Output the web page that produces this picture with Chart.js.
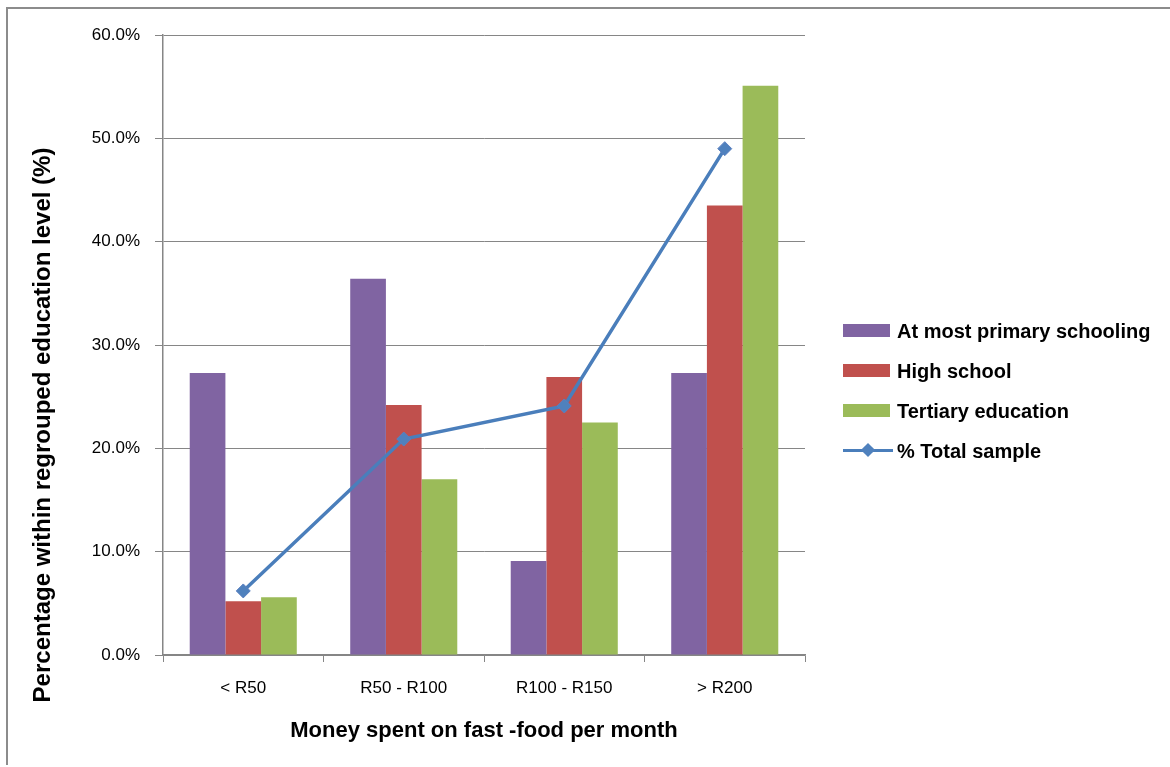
<!DOCTYPE html>
<html>
<head>
<meta charset="utf-8">
<script src="https://cdn.jsdelivr.net/npm/chart.js@4"></script>
<style>
  html, body { margin: 0; padding: 0; background: #fff; }
  #wrap { position: relative; width: 1170px; height: 767px; overflow: hidden; }
  #frame { position: absolute; left: 6px; top: 7px; width: 1170px; height: 758px;
           border-left: 2px solid #8c8c8c; border-top: 2px solid #8c8c8c; box-sizing: border-box; }
  canvas { position: absolute; left: 0; top: 0; }
  #legend { position: absolute; left: 843px; top: 0; font-family: "Liberation Sans", Arial, sans-serif;
            font-weight: bold; font-size: 20px; color: #000; }
  .item { position: absolute; left: 0; height: 24px; white-space: nowrap; }
  .sw { position: absolute; left: 0; }
  .lbl { position: absolute; left: 54px; top: 0; line-height: 24px; }
</style>
</head>
<body>
<div id="wrap">
  <div id="frame"></div>
  <canvas id="c" width="1170" height="767"></canvas>
  <div id="legend"></div>
</div>
<script>
const categories = ['< R50', 'R50 - R100', 'R100 - R150', '> R200'];
const primarySchooling = [27.3, 36.4, 9.1, 27.3];
const highSchool = [5.2, 24.2, 26.9, 43.5];
const tertiaryEducation = [5.6, 17.0, 22.5, 55.1];
const totalSample = [6.2, 20.9, 24.1, 49.0];
const seriesNames = ['At most primary schooling', 'High school', 'Tertiary education', '% Total sample'];
const yTicks = [0, 10, 20, 30, 40, 50, 60];

const grey = '#868686';
const font = "'Liberation Sans', Arial, sans-serif";

const yTitlePlugin = {
  id: 'yTitle',
  afterDraw(chart) {
    const ctx = chart.ctx;
    ctx.save();
    ctx.translate(43, 425);
    ctx.rotate(-Math.PI / 2);
    ctx.font = 'bold 24px ' + font;
    ctx.fillStyle = '#000';
    ctx.textAlign = 'center';
    ctx.textBaseline = 'middle';
    ctx.fillText('Percentage within regrouped education level (%)', 0, 0);
    ctx.restore();
  }
};

const chart = new Chart(document.getElementById('c'), {
  data: {
    labels: categories,
    datasets: [
      { type: 'line', label: seriesNames[3], data: totalSample, order: 0,
        borderColor: '#4A7EBB', borderWidth: 3.5, tension: 0,
        pointStyle: 'rectRot', pointRadius: 7, pointBackgroundColor: '#4F81BD',
        pointBorderColor: '#5b7fc0', pointBorderWidth: 1 },
      { type: 'bar', label: seriesNames[0], data: primarySchooling, backgroundColor: '#8064A2', order: 1,
        barPercentage: 1.0, categoryPercentage: 0.667 },
      { type: 'bar', label: seriesNames[1], data: highSchool, backgroundColor: '#C0504D', order: 1,
        barPercentage: 1.0, categoryPercentage: 0.667 },
      { type: 'bar', label: seriesNames[2], data: tertiaryEducation, backgroundColor: '#9BBB59', order: 1,
        barPercentage: 1.0, categoryPercentage: 0.667 }
    ]
  },
  options: {
    responsive: false,
    animation: false,
    layout: { padding: { top: 35, right: 365, bottom: 0, left: 0 } },
    plugins: { legend: { display: false }, tooltip: { enabled: false } },
    scales: {
      x: {
        type: 'category',
        grid: { display: true, drawOnChartArea: false, drawTicks: true, tickLength: 7, color: grey, offset: true },
        border: { display: true, color: grey, width: 1.5 },
        ticks: { color: '#000', font: { family: font, size: 17 }, padding: 16 },
        title: { display: true, text: 'Money spent on fast -food per month', color: '#000',
                 font: { family: font, size: 22, weight: 'bold' }, padding: { top: 0, bottom: 23 } },
        afterFit(scale) { scale.height = 112; }
      },
      y: {
        min: 0, max: 60,
        afterBuildTicks(scale) { scale.ticks = yTicks.map(v => ({ value: v })); },
        grid: { color: grey, lineWidth: 1, drawTicks: true, tickLength: 8 },
        border: { display: true, color: grey, width: 1.5 },
        ticks: { color: '#000', font: { family: font, size: 17 }, padding: 15,
                 callback: v => v.toFixed(1) + '%' },
        afterFit(scale) { scale.width = 163; }
      }
    }
  },
  plugins: [yTitlePlugin]
});

// HTML legend built from chart datasets
const legend = document.getElementById('legend');
const legendOrder = [1, 2, 3, 0];
legendOrder.forEach((di, i) => {
  const ds = chart.data.datasets[di];
  const cy = 331 + i * 40;
  const item = document.createElement('div');
  item.className = 'item';
  item.style.top = (cy - 12) + 'px';
  if (ds.type === 'bar') {
    const sw = document.createElement('div');
    sw.className = 'sw';
    sw.style.cssText = 'left:0;top:5px;width:47px;height:13px;background:' + ds.backgroundColor;
    item.appendChild(sw);
  } else {
    const line = document.createElement('div');
    line.style.cssText = 'position:absolute;left:0;top:10px;width:50px;height:3px;background:' + ds.borderColor;
    const dia = document.createElement('div');
    dia.style.cssText = 'position:absolute;left:20px;top:6px;width:10px;height:10px;transform:rotate(45deg);background:' + ds.pointBackgroundColor;
    item.appendChild(line);
    item.appendChild(dia);
  }
  const lbl = document.createElement('div');
  lbl.className = 'lbl';
  lbl.textContent = ds.label;
  item.appendChild(lbl);
  legend.appendChild(item);
});
</script>
</body>
</html>
